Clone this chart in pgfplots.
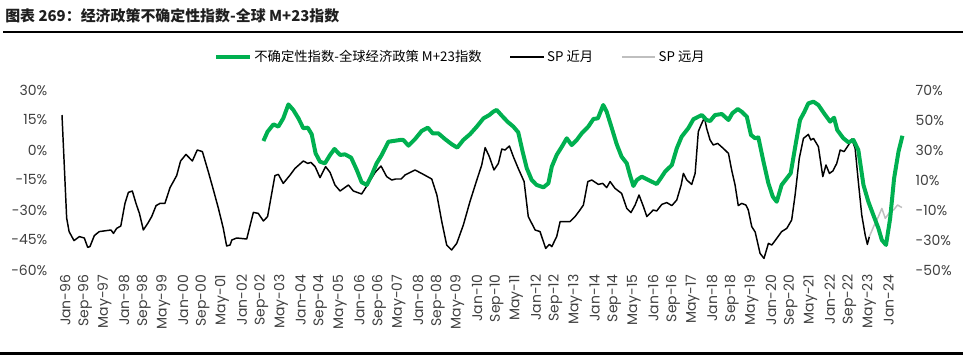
\documentclass[border=0pt]{standalone}
\usepackage{pgfplots}
\pgfplotsset{compat=1.18}
\usepackage{fontspec}
\setmainfont{Poppins}
\newfontfamily\cjk{Noto Sans CJK SC}
\definecolor{sgreen}{HTML}{00B050}
\definecolor{sgray}{HTML}{BFBFBF}
\definecolor{ticktext}{HTML}{404040}

\pgfplotstableread{
m v
0 17.5
1.9 -34
2.9 -40.8
4.9 -45.3
7.1 -43.3
9.1 -44
10.5 -48.7
11.4 -48.3
13.2 -42.8
15.2 -40.8
20 -40
21 -41.7
22.3 -39.2
24 -38
25.7 -26.7
27.1 -21.2
28.7 -20.5
30.2 -26.7
31.6 -31.7
33.2 -40
35 -36.7
36.6 -33.3
38.4 -27.8
40 -26.7
42 -26.7
44.1 -18.8
46.8 -12.8
48.4 -5.5
50.6 -2.2
53.2 -5.5
55.2 0
57.3 -0.8
59.7 -10.8
61.8 -20
63.8 -29
65.8 -39
67.2 -48
68.6 -47.5
69.3 -45
71.3 -44
75.4 -44.5
78.1 -31.2
80.1 -31.7
82.2 -35.5
83.9 -33.3
86.9 -12.8
88.3 -12.2
90.3 -16.7
93.1 -12.5
95.1 -9.2
98.5 -5.5
100.3 -6.7
101.6 -6.2
103.3 -8.3
105.3 -13.8
107.6 -8.3
109.4 -11.2
111.4 -17.5
113.5 -20.5
116.9 -17.5
118.9 -20.5
122.3 -22
124.8 -17.2
127.8 -11.2
130.2 -8
132.5 -13.3
134.6 -15
136.2 -14.5
138.4 -14.5
140 -12.5
144.1 -10
147.5 -12.2
150.9 -14.5
153 -22.5
155 -35.8
157 -47.5
159 -50
161.1 -46.7
163.8 -37.5
166.5 -25.8
169.3 -15
171.3 -7.5
172.7 1.2
174.4 -3.3
176.3 -10
178.1 -6.7
179.5 0.5
180.8 0
182.6 2
184.2 -3.3
186.2 -9.2
188.6 -15.8
190.3 -33.3
193.1 -40
195.1 -40.8
197.4 -49.2
198.9 -47.2
199.9 -48.3
201.9 -43.3
203.3 -35.8
207.3 -35.8
209.4 -33.3
211.4 -30
212.8 -27.5
214.6 -15.8
216.2 -15
218.9 -17.2
220.7 -16.7
222.3 -18.8
223.7 -15.8
225.7 -19.2
228.4 -21.7
230.5 -29.2
232.2 -31.3
233.9 -27.5
235.5 -22.5
237.3 -28.3
238.7 -33.3
241.3 -30
242.7 -30.5
244.8 -27.2
246.8 -26.3
248.9 -27.8
250.9 -25
252.7 -17.5
253.6 -11.7
255 -15
257 -17.2
258.4 -11.7
259.7 9.2
260.8 12.5
262.2 16.2
263.1 10.8
264.5 5
265.8 2.5
267.6 3.3
269.9 0.8
272 -1.7
273.3 -10
274.7 -17.5
276 -27.8
277.4 -26.7
279.1 -27.5
280.1 -30
281.5 -38.3
282.9 -41
284.9 -51.7
286.5 -54.2
288.3 -46.7
289.7 -47.5
291.7 -44.2
293.7 -40.8
295.8 -39.2
297.8 -35
299.2 -22.5
300.9 -4.2
302.6 5.8
304.6 7.8
305.6 5
306.7 5.8
308.7 1.7
310.5 -13.3
311.8 -7.5
313.2 -11.7
314.6 -10.5
316.2 -6.7
317.6 0
319.2 -0.8
321 2.5
322.3 5.5
323.7 0.8
325 -15.8
326.4 -32.5
327.8 -42.5
328.7 -47.2
329.5 -43.3
}\spnear

\pgfplotstableread{
m v
329.5 -43.3
331.8 -36.7
333.2 -33.3
334.6 -29.2
336 -34.2
338 -30.8
339.4 -30
341 -27.5
342.8 -28.8
}\spfar

\pgfplotstableread{
m v
82.2 36
83.9 42.2
86.3 47.1
88.3 45.6
90.3 51.1
92.4 60.4
94.4 56.7
96.5 51.1
98.5 44.5
100.3 44.9
101.9 40.5
103.5 27.8
105.3 22.2
107.3 21.1
109.4 26.7
111.2 30.7
113.5 26.7
115.5 27.1
118 24.9
120.3 16.7
122.3 8.5
124.4 6.7
126.4 13.3
128.4 21.1
130.5 26.7
133.2 35.5
135.2 36
138 36.7
139.3 36.7
141.4 32.9
144.1 37.3
146.8 42.7
149.3 44.9
151.3 41.1
153.6 41.1
156.3 37.3
159.1 33.8
161.3 31.6
163.8 36.7
166.5 40.5
169.3 45.6
172 51.1
174.4 53.3
176 55.5
177.4 56.7
179.5 52.9
181.8 48.9
184.2 45.6
186.2 41.8
188 28.9
189.7 17.8
191.7 10
193.7 6.7
196.5 5.1
198.5 7.8
199.9 18.9
201.9 26.7
204 32.2
206 37.8
208 33.3
210.1 36.7
212.1 41.1
214.8 45.6
216.9 50.7
218.7 51.1
220.9 60
222.3 55.5
224.4 44.5
226.4 33.8
228.4 25.5
230.5 21.1
231.8 13.3
233.2 6
234.6 10
236.6 12.2
239.3 10
242.7 7.3
244.5 11.5
246.1 15.5
248.9 20
250.9 31.1
252.9 38.9
255.6 44.5
257.7 50.5
259.7 52.2
261.1 53.3
263.1 50
264.5 49.3
266.5 53.3
269.3 54
272 50
273.6 54.5
275.8 57.3
277.4 55.5
279.5 52.2
281.2 40
282.9 37.8
284.2 38.4
286.3 22.2
288.3 7.8
290.1 -1.1
291.7 -4.5
293.7 6.7
295.8 11.1
297.4 14.5
299.6 35.5
301.2 50
303 55.5
304.6 61.1
306.7 62.2
308.7 60
311 54.5
313.5 48.9
315.1 51.5
316.4 43.3
318.9 37.8
321 35.1
323 36.7
325 30
327.1 6.7
329.1 -4.5
331.4 -14.5
333.2 -22.2
334.6 -30
336.3 -33.3
338 -15.5
339.6 11.1
341.4 28.9
343 39.5
}\epu

\begin{document}
\begin{tikzpicture}
\path[use as bounding box] (0pt,0pt) rectangle (734.25pt,-270pt);
\node[anchor=base west, inner sep=0pt, text=black!88] at (3.75pt,-16.5pt)
  {\cjk\bfseries\fontsize{11.2}{13}\selectfont 图表 269：经济政策不确定性指数-全球 M+23指数};
\draw[line width=1.5pt] (2.25pt,-24pt) -- (722.25pt,-24pt);
\draw[line width=2.25pt] (0pt,-264.75pt) -- (722.25pt,-264.75pt);

\pgfplotsset{
  mybase/.style={
    scale only axis, width=644.25pt, height=135pt,
    at={(39pt,-67.5pt)}, anchor=north west,
    xmin=-4.08, xmax=346.5,
    axis line style={draw=none},
    major tick length=0pt,
    tick style={draw=none},
    ticklabel style={font=\fontsize{10.5}{12}\selectfont, text=ticktext},
    /pgf/number format/assume math mode=true,
    clip=false,
  }
}

\begin{axis}[mybase,
  ymin=-60, ymax=30, ytick={-60,-45,...,30},
  yticklabel={\pgfmathprintnumber{\tick}\%},
  xtick={0,8,...,336},
  xticklabels={Jan-96,Sep-96,May-97,Jan-98,Sep-98,May-99,Jan-00,Sep-00,May-01,Jan-02,Sep-02,May-03,Jan-04,Sep-04,May-05,Jan-06,Sep-06,May-07,Jan-08,Sep-08,May-09,Jan-10,Sep-10,May-11,Jan-12,Sep-12,May-13,Jan-14,Sep-14,May-15,Jan-16,Sep-16,May-17,Jan-18,Sep-18,May-19,Jan-20,Sep-20,May-21,Jan-22,Sep-22,May-23,Jan-24},
  x tick label style={rotate=90, anchor=east, yshift=-2.5pt},
]
\addplot[black, line width=1.1pt, line join=round] table[x=m,y=v] {\spnear};
\addplot[sgray, line width=1.1pt, line join=round] table[x=m,y=v] {\spfar};
\end{axis}

\begin{axis}[mybase,
  ymin=-50, ymax=70, ytick={-50,-30,...,70},
  yticklabel pos=right,
  yticklabel={\pgfmathprintnumber{\tick}\%},
  xtick=\empty,
  legend columns=3,
  legend style={draw=none, fill=none, at={(0.476,1.183)}, anchor=center,
    font=\cjk\fontsize{10}{11}\selectfont, text=black,
    /tikz/every even column/.append style={column sep=19pt}},
  legend image code/.code={\draw[#1] (0pt,0pt) -- (25pt,0pt);},
]
\addplot[sgreen, line width=3pt, line join=round] table[x=m,y=v] {\epu};
\addlegendentry{不确定性指数-全球经济政策 M+23指数}
\addlegendimage{black, line width=1.1pt}
\addlegendentry{SP 近月}
\addlegendimage{sgray, line width=1.1pt}
\addlegendentry{SP 远月}
\end{axis}
\end{tikzpicture}
\end{document}
